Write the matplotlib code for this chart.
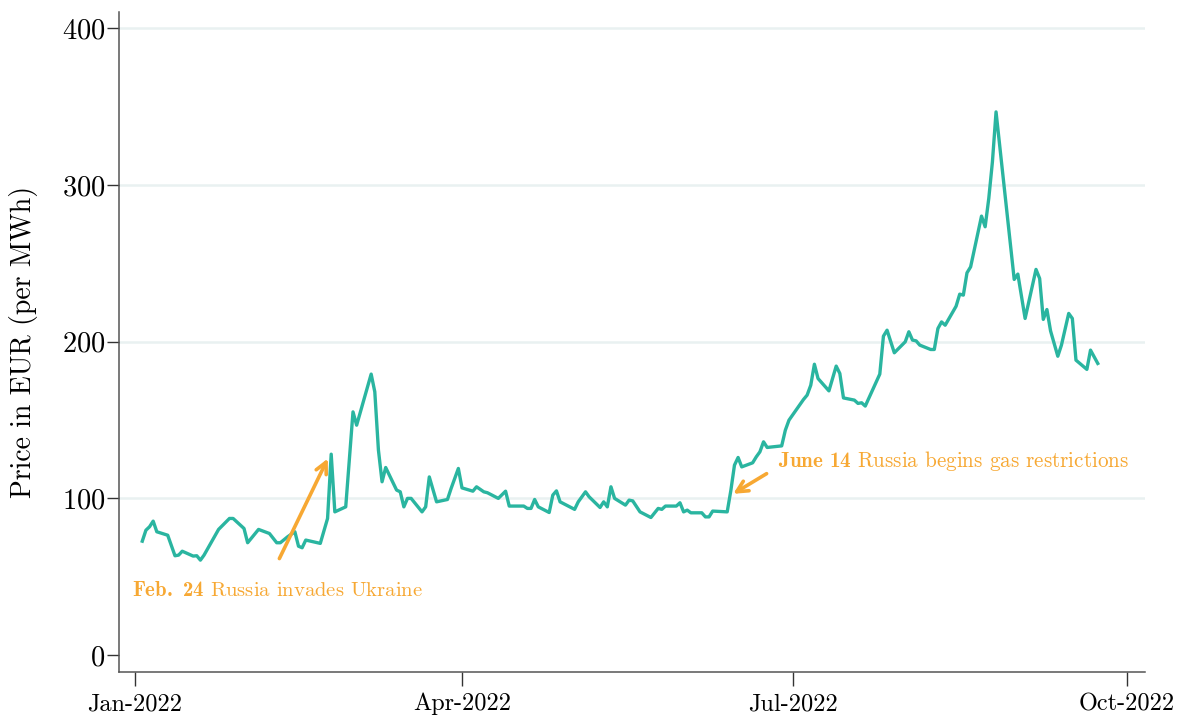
import numpy as np
import pandas as pd
import matplotlib
matplotlib.use("Agg")
import matplotlib.pyplot as plt
import matplotlib.dates as mdates

# Days since 2022-01-01 and TTF gas price (EUR / MWh)
days = [2, 3, 4, 5, 6, 9, 11, 12, 13, 16, 17, 18, 19, 23, 26, 27, 30, 31, 34, 37,
        39, 40, 42, 44, 45, 46, 47, 51, 53, 54, 55, 58, 60, 61, 65, 66, 67, 68, 69, 72,
        73, 74, 75, 76, 79, 80, 81, 83, 86, 87, 89, 90, 93, 94, 96, 97, 100, 102, 103, 107,
        108, 109, 110, 111, 114, 115, 116, 117, 121, 122, 124, 125, 128, 129, 130, 131, 132, 135, 136, 137,
        139, 142, 144, 145, 146, 149, 150, 151, 152, 153, 156, 157, 158, 159, 163, 164, 165, 166, 167, 170,
        171, 172, 173, 174, 178, 179, 180, 184, 185, 186, 187, 188, 191, 193, 194, 195, 198, 199, 200, 201,
        205, 206, 207, 209, 212, 213, 214, 215, 216, 219, 220, 221, 222, 223, 226, 227, 228, 229, 230, 233,
        234, 235, 236, 237, 242, 243, 245, 248, 249, 250, 251, 252, 254, 255, 257, 258, 259, 262, 263, 264,
        265]
price = [72.7, 79.7, 81.9, 85.5, 78.7, 76.5, 63.4, 63.8, 66.3, 63.2, 63.4, 60.6, 63.8, 80.2, 87.2, 87.2, 80.8, 71.7, 80.2, 77.6,
         71.7, 71.7, 75.5, 78.7, 69.5, 68.5, 73.4, 71.3, 87.2, 128.2, 91.4, 94.6, 155.2, 146.7, 179.3, 168.0, 130.8, 110.6, 119.7, 105.3,
         104.2, 94.6, 100.0, 100.0, 91.4, 94.6, 113.7, 97.8, 99.3, 106.3, 119.1, 106.7, 104.6, 107.4, 104.2, 103.6, 100.0, 104.6, 95.1, 95.1,
         93.6, 93.6, 99.3, 94.6, 91.0, 102.1, 104.8, 97.8, 93.0, 97.8, 104.2, 101.0, 94.2, 97.8, 94.6, 107.4, 100.0, 95.7, 98.9, 98.4,
         91.4, 87.8, 93.6, 93.0, 95.1, 95.1, 97.2, 91.4, 92.5, 90.8, 90.8, 88.2, 88.2, 91.9, 91.4, 105.0, 121.2, 126.1, 120.1, 122.7,
         126.5, 129.7, 136.1, 132.5, 133.5, 143.5, 149.9, 163.1, 165.9, 172.2, 185.6, 176.5, 168.6, 184.4, 179.7, 164.1, 162.7, 160.6, 161.0, 158.9,
         179.3, 203.5, 207.3, 192.9, 199.9, 206.3, 201.0, 200.5, 197.8, 195.0, 195.0, 208.4, 212.6, 210.5, 222.6, 230.3, 229.7, 243.9, 247.7, 280.1,
         273.3, 291.4, 314.7, 346.6, 239.7, 243.1, 214.8, 246.1, 240.3, 214.2, 220.5, 206.9, 190.7, 197.8, 218.0, 214.8, 188.2, 182.3, 194.6, 190.3,
         186.1]

yticks = [0, 100, 200, 300, 400]

start = pd.Timestamp("2022-01-01")
dates = start + pd.to_timedelta(days, unit="D")

line_color = "#2ab5a0"
note_color = "#f7a833"

plt.rcParams["font.family"] = ["cmr10", "DejaVu Serif"]
plt.rcParams["mathtext.fontset"] = "custom"
plt.rcParams["mathtext.rm"] = "cmr10"
plt.rcParams["mathtext.bf"] = "cmb10"
plt.rcParams["axes.formatter.use_mathtext"] = True

fig = plt.figure(figsize=(11.82, 7.18), dpi=100)
ax = fig.add_axes([0.1007, 0.064, 0.868, 0.919])

ax.plot(dates, price, color=line_color, linewidth=2.4, zorder=3)

ax.set_xlim(start - pd.Timedelta(days=4.4), start + pd.Timedelta(days=278))
ax.set_ylim(-10.8, 410.2)

ax.set_yticks(yticks)
ax.xaxis.set_major_locator(mdates.MonthLocator(bymonth=[1, 4, 7, 10]))
ax.xaxis.set_major_formatter(mdates.DateFormatter("%b-%Y"))

# light horizontal guides (none at zero)
for yv in yticks[1:]:
    ax.axhline(yv, color="#e9f1f1", linewidth=1.8, zorder=0)

for side in ["top", "right"]:
    ax.spines[side].set_visible(False)
for side in ["left", "bottom"]:
    ax.spines[side].set_color("#555555")
    ax.spines[side].set_linewidth(1.1)

ax.tick_params(axis="y", length=9, width=1, color="#333333", labelsize=20.5, pad=1)
ax.tick_params(axis="x", length=10, width=1, color="#333333", labelsize=17.5, pad=5)
ax.set_ylabel("Price in EUR (per MWh)", fontsize=20, labelpad=17)

# Annotations
ax.annotate("", xy=(start + pd.Timedelta(days=53.4), 127),
            xytext=(start + pd.Timedelta(days=39.4), 60),
            arrowprops=dict(arrowstyle="->", color=note_color, lw=2.6,
                            mutation_scale=20))
ax.text(start - pd.Timedelta(days=0.8), 41.5,
        r"$\mathbf{Feb.\ 24}$ Russia invades Ukraine",
        color=note_color, fontsize=14.9, va="center", ha="left")

ax.annotate("", xy=(start + pd.Timedelta(days=164), 102),
            xytext=(start + pd.Timedelta(days=174.5), 116.7),
            arrowprops=dict(arrowstyle="->", color=note_color, lw=2.6,
                            mutation_scale=20))
ax.text(start + pd.Timedelta(days=177), 124,
        r"$\mathbf{June\ 14}$ Russia begins gas restrictions",
        color=note_color, fontsize=15.2, va="center", ha="left")

fig.savefig("out.png", dpi=100)
